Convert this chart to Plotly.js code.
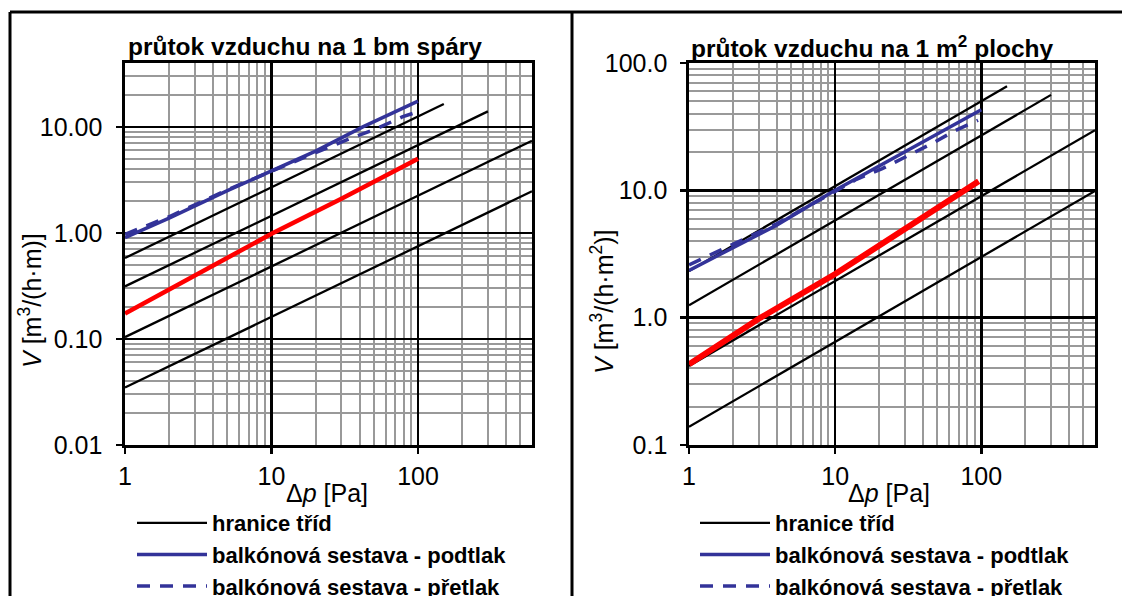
<!DOCTYPE html>
<html>
<head>
<meta charset="utf-8">
<script src="https://cdn.plot.ly/plotly-3.0.1.min.js"></script>
<style>html,body{margin:0;padding:0;background:#fff;}#chart{width:1122px;height:596px;}</style>
</head>
<body>
<div id="chart"></div>
<script>
// ---- data ----
// class boundary lines (hranice tříd): start / end pressure [Pa]
const classStartPa = [1, 1, 1, 1];
const classEndPa = [150, 300, 600, 600];
// left chart: per 1 m of joint [m3/(h·m)]
const lenClassStartV = [0.58, 0.313, 0.104, 0.0348];
const lenClassEndV = [16.4, 14.0, 7.4, 2.47];
// right chart: per 1 m2 of area [m3/(h·m2)]
const areaClassStartV = [2.32, 1.25, 0.418, 0.139];
const areaClassEndV = [65.6, 56.2, 29.7, 9.9];

// balcony set, underpressure (podtlak) and overpressure (přetlak), plus red series
const lenPodtlakPa = [1, 2, 5, 10, 20, 42, 100];
const lenPodtlakV = [0.9, 1.38, 2.5, 3.87, 5.9, 10.0, 17.5];
const lenPretlakPa = [1, 2, 5, 10, 20, 34, 52, 78, 100];
const lenPretlakV = [0.97, 1.42, 2.55, 3.85, 5.7, 7.7, 9.6, 12.4, 13.9];
const lenRedPa = [1, 3, 10, 30, 100];
const lenRedV = [0.174, 0.40, 0.98, 2.1, 5.0];

const areaPodtlakPa = [1, 3.9, 10, 30, 100];
const areaPodtlakV = [2.35, 5.26, 10.0, 20.0, 43];
const areaPretlakPa = [1, 3.9, 10, 14, 21, 30, 46, 66, 95];
const areaPretlakV = [2.6, 5.4, 9.8, 12.2, 14.8, 18.2, 23.3, 29.4, 35.5];
const areaRedPa = [1, 3, 10, 30, 96];
const areaRedV = [0.43, 0.98, 2.2, 5.0, 11.8];

const xTickVals = [1, 10, 100];
const xTickText = ['1', '10', '100'];
const lenTickVals = [0.01, 0.1, 1, 10];
const lenTickText = ['0.01', '0.10', '1.00', '10.00'];
const areaTickVals = [0.1, 1, 10, 100];
const areaTickText = ['0.1', '1.0', '10.0', '100.0'];

const legendNames = ['hranice tříd', 'balkónová sestava - podtlak', 'balkónová sestava - přetlak'];
const titles = ['průtok vzduchu na 1 bm spáry', 'průtok vzduchu na 1 m<sup>2</sup> plochy'];
const yTitles = ['<i>V</i> [m<sup>3</sup>/(h·m)]', '<i>V</i> [m<sup>3</sup>/(h·m<sup>2</sup>)]'];
const xTitle = 'Δ<i>p</i> [Pa]';

// ---- styling ----
const FONT = 'Liberation Sans, Arial, sans-serif';
const W = 1122, H = 596;
const px = v => v / W;
const py = v => 1 - v / H;
const BLUE = '#333399';

function buildTraces(startV, endV, podPa, podV, prePa, preV, redPa, redV, xa, ya, leg, redW) {
  const t = [];
  for (let i = 0; i < classStartPa.length; i++) {
    t.push({
      x: [classStartPa[i], classEndPa[i]], y: [startV[i], endV[i]],
      xaxis: xa, yaxis: ya, mode: 'lines', type: 'scatter',
      line: {color: '#000', width: 2.3},
      name: legendNames[0], legendgroup: leg + 'c', showlegend: i === 0, legend: leg,
      hoverinfo: 'skip'
    });
  }
  t.push({x: redPa, y: redV, xaxis: xa, yaxis: ya, mode: 'lines', type: 'scatter',
    line: {color: '#ff0000', width: redW}, showlegend: false, name: 'red', legend: leg});
  t.push({x: podPa, y: podV, xaxis: xa, yaxis: ya, mode: 'lines', type: 'scatter',
    line: {color: BLUE, width: 3.5}, name: legendNames[1], legendgroup: leg + 'p', legend: leg});
  t.push({x: prePa, y: preV, xaxis: xa, yaxis: ya, mode: 'lines', type: 'scatter',
    line: {color: BLUE, width: 3.5, dash: '13px,10px'}, name: legendNames[2], legendgroup: leg + 'r', legend: leg});
  return t;
}

const traces = [].concat(
  buildTraces(lenClassStartV, lenClassEndV, lenPodtlakPa, lenPodtlakV, lenPretlakPa, lenPretlakV, lenRedPa, lenRedV, 'x', 'y', 'legend', 4.5),
  buildTraces(areaClassStartV, areaClassEndV, areaPodtlakPa, areaPodtlakV, areaPretlakPa, areaPretlakV, areaRedPa, areaRedV, 'x2', 'y2', 'legend2', 6)
);

function xAxis(dom, anchor) {
  return {
    type: 'log', range: [0, Math.log10(600)], domain: dom, anchor: anchor,
    tickmode: 'array', tickvals: xTickVals, ticktext: xTickText,
    ticks: 'outside', ticklen: 6, tickwidth: 2.5, tickcolor: '#000', ticklabelstandoff: 1,
    showline: true, linecolor: '#000', linewidth: 2.7, mirror: true,
    showgrid: true, gridcolor: '#000', gridwidth: 2.5, zeroline: false,
    minor: {dtick: 'D1', showgrid: true, gridcolor: '#999999', gridwidth: 2, ticks: ''},
    tickfont: {family: FONT, size: 25, color: '#000'}, fixedrange: true
  };
}
function yAxis(range, vals, text, anchor, standoff) {
  return {
    type: 'log', range: range, domain: [py(445), py(63)], anchor: anchor,
    tickmode: 'array', tickvals: vals, ticktext: text,
    ticks: 'outside', ticklen: 6, tickwidth: 2.5, tickcolor: '#000', ticklabelstandoff: standoff,
    showline: true, linecolor: '#000', linewidth: 2.7, mirror: true,
    showgrid: true, gridcolor: '#000', gridwidth: 2.5, zeroline: false,
    minor: {dtick: 'D1', showgrid: true, gridcolor: '#999999', gridwidth: 2, ticks: ''},
    tickfont: {family: FONT, size: 25, color: '#000'}, fixedrange: true
  };
}

const legendCommon = {
  xanchor: 'left', yanchor: 'top', orientation: 'v', traceorder: 'normal',
  bgcolor: 'rgba(0,0,0,0)', borderwidth: 0, itemwidth: 70, tracegroupgap: 0,
  font: {family: FONT, size: 22, color: '#000', weight: 'bold'}, itemclick: false, itemdoubleclick: false
};

const annFont = {family: FONT, size: 25, color: '#000'};
const layout = {
  width: W, height: H, margin: {l: 0, r: 0, t: 0, b: 0, autoexpand: false},
  paper_bgcolor: '#fff', plot_bgcolor: '#fff', showlegend: true,
  xaxis: xAxis([px(125), px(532)], 'y'),
  yaxis: yAxis([-2, Math.log10(40)], lenTickVals, lenTickText, 'x', 9),
  xaxis2: xAxis([px(689), px(1095)], 'y2'),
  yaxis2: yAxis([-1, 2], areaTickVals, areaTickText, 'x2', 8),
  legend: Object.assign({x: px(132), y: py(502)}, legendCommon),
  legend2: Object.assign({x: px(695), y: py(502)}, legendCommon),
  annotations: [
    {text: '<b>' + titles[0] + '</b>', xref: 'paper', yref: 'paper', x: px(126), y: py(47), xanchor: 'left', yanchor: 'middle', showarrow: false, font: {family: FONT, size: 24.5, color: '#000'}},
    {text: '<b>' + titles[1] + '</b>', xref: 'paper', yref: 'paper', x: px(689), y: py(47), xanchor: 'left', yanchor: 'middle', showarrow: false, font: {family: FONT, size: 24.5, color: '#000'}},
    {text: yTitles[0], xref: 'paper', yref: 'paper', x: px(30), y: py(301), xanchor: 'center', yanchor: 'middle', textangle: -90, showarrow: false, font: annFont},
    {text: yTitles[1], xref: 'paper', yref: 'paper', x: px(602), y: py(302), xanchor: 'center', yanchor: 'middle', textangle: -90, showarrow: false, font: annFont},
    {text: xTitle, xref: 'paper', yref: 'paper', x: px(327), y: py(493), xanchor: 'center', yanchor: 'middle', showarrow: false, font: annFont},
    {text: xTitle, xref: 'paper', yref: 'paper', x: px(889), y: py(493), xanchor: 'center', yanchor: 'middle', showarrow: false, font: annFont}
  ],
  shapes: [
    {type: 'line', xref: 'paper', yref: 'paper', x0: px(10), x1: 1, y0: py(12), y1: py(12), line: {color: '#000', width: 3}},
    {type: 'line', xref: 'paper', yref: 'paper', x0: px(10), x1: px(10), y0: py(12), y1: 0, line: {color: '#000', width: 3}},
    {type: 'line', xref: 'paper', yref: 'paper', x0: px(572), x1: px(572), y0: py(12), y1: 0, line: {color: '#000', width: 3}}
  ]
};

Plotly.newPlot('chart', traces, layout, {staticPlot: true, displayModeBar: false});
</script>
</body>
</html>
